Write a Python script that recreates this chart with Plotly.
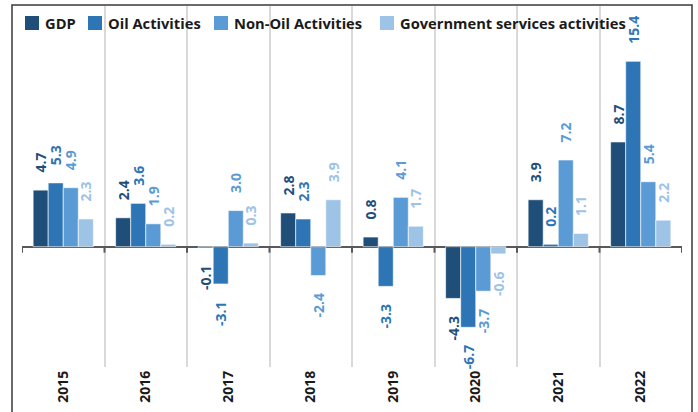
import plotly.graph_objects as go

years = ["2015", "2016", "2017", "2018", "2019", "2020", "2021", "2022"]
gdp = [4.7, 2.4, -0.1, 2.8, 0.8, -4.3, 3.9, 8.7]
oil = [5.3, 3.6, -3.1, 2.3, -3.3, -6.7, 0.2, 15.4]
non_oil = [4.9, 1.9, 3.0, -2.4, 4.1, -3.7, 7.2, 5.4]
gov = [2.3, 0.2, 0.3, 3.9, 1.7, -0.6, 1.1, 2.2]

names = ["GDP", "Oil Activities", "Non-Oil Activities", "Government services activities"]
colors = ["#1f4e79", "#2e75b6", "#5b9bd5", "#9dc3e6"]
values = [gdp, oil, non_oil, gov]

FONT = "Open Sans"
W, H = 698, 412
ML, MR, MT, MB = 22, 16, 6, 45
PW, PH = W - ML - MR, H - MT - MB


def px(x):
    return (x - ML) / PW


def py(y):
    return (H - MB - y) / PH


def lab(v):
    s = f"{v:.1f}"
    return "\u00a0" * 4 + s if v >= 0 else s + "\u00a0" * 4


fig = go.Figure()
for name, vals, col in zip(names, values, colors):
    fig.add_trace(go.Bar(
        x=years, y=vals, name=name, showlegend=False,
        marker=dict(color=col, line=dict(color="white", width=0.6)),
        text=[lab(v) for v in vals], textposition="outside", textangle=-90,
        constraintext="none",
        textfont=dict(family=FONT, size=14, color=col, weight="bold"),
        cliponaxis=False, hoverinfo="skip",
    ))

shapes = []
# small tick marks below the zero line at category boundaries
for i in range(len(years) + 1):
    shapes.append(dict(type="line", xref="x", yref="y", ysizemode="pixel", yanchor=0,
                       x0=i - 0.5, x1=i - 0.5, y0=0, y1=-6,
                       line=dict(color="#595959", width=2)))
# outer frame
shapes.append(dict(type="rect", xref="paper", yref="paper",
                   x0=px(12), x1=px(692), y0=py(H + 20), y1=py(5),
                   line=dict(color="#3a3a3a", width=1.5), layer="below"))

# legend (custom, to match compact spacing)
annotations = []
leg_sq_x = [25, 88, 214, 380]
for name, col, sx in zip(names, colors, leg_sq_x):
    shapes.append(dict(type="rect", xref="paper", yref="paper",
                       x0=px(sx), x1=px(sx + 14), y0=py(30), y1=py(16),
                       fillcolor=col, line=dict(width=0)))
    annotations.append(dict(xref="paper", yref="paper", x=px(sx + 18), y=py(23),
                            xanchor="left", yanchor="middle", showarrow=False,
                            text=name,
                            font=dict(family=FONT, size=14.7, color="#1a1a1a", weight="bold")))

fig.update_layout(
    width=W, height=H,
    margin=dict(l=ML, r=MR, t=MT, b=MB, autoexpand=False),
    paper_bgcolor="white", plot_bgcolor="white",
    barmode="group", bargap=0.27, bargroupgap=0.0,
    font=dict(family=FONT, color="#1a1a1a"),
    showlegend=False,
    xaxis=dict(type="category", range=[-0.5, len(years) - 0.5], automargin=False,
               tickson="boundaries", showgrid=True, gridcolor="#d9d9d9", gridwidth=2,
               ticks="", showline=False, tickangle=-90,
               tickfont=dict(family=FONT, size=14, color="#1a1a1a", weight="bold"),
               fixedrange=True),
    yaxis=dict(range=[-10.0, 20.0], showgrid=False, showticklabels=False, automargin=False,
               zeroline=True, zerolinecolor="#595959", zerolinewidth=2,
               showline=False, ticks="", fixedrange=True),
    shapes=shapes,
    annotations=annotations,
)

fig.write_html(
    "out.html",
    config={"displayModeBar": False},
    post_script="document.body.style.margin='0';document.body.style.overflow='hidden';",
)
